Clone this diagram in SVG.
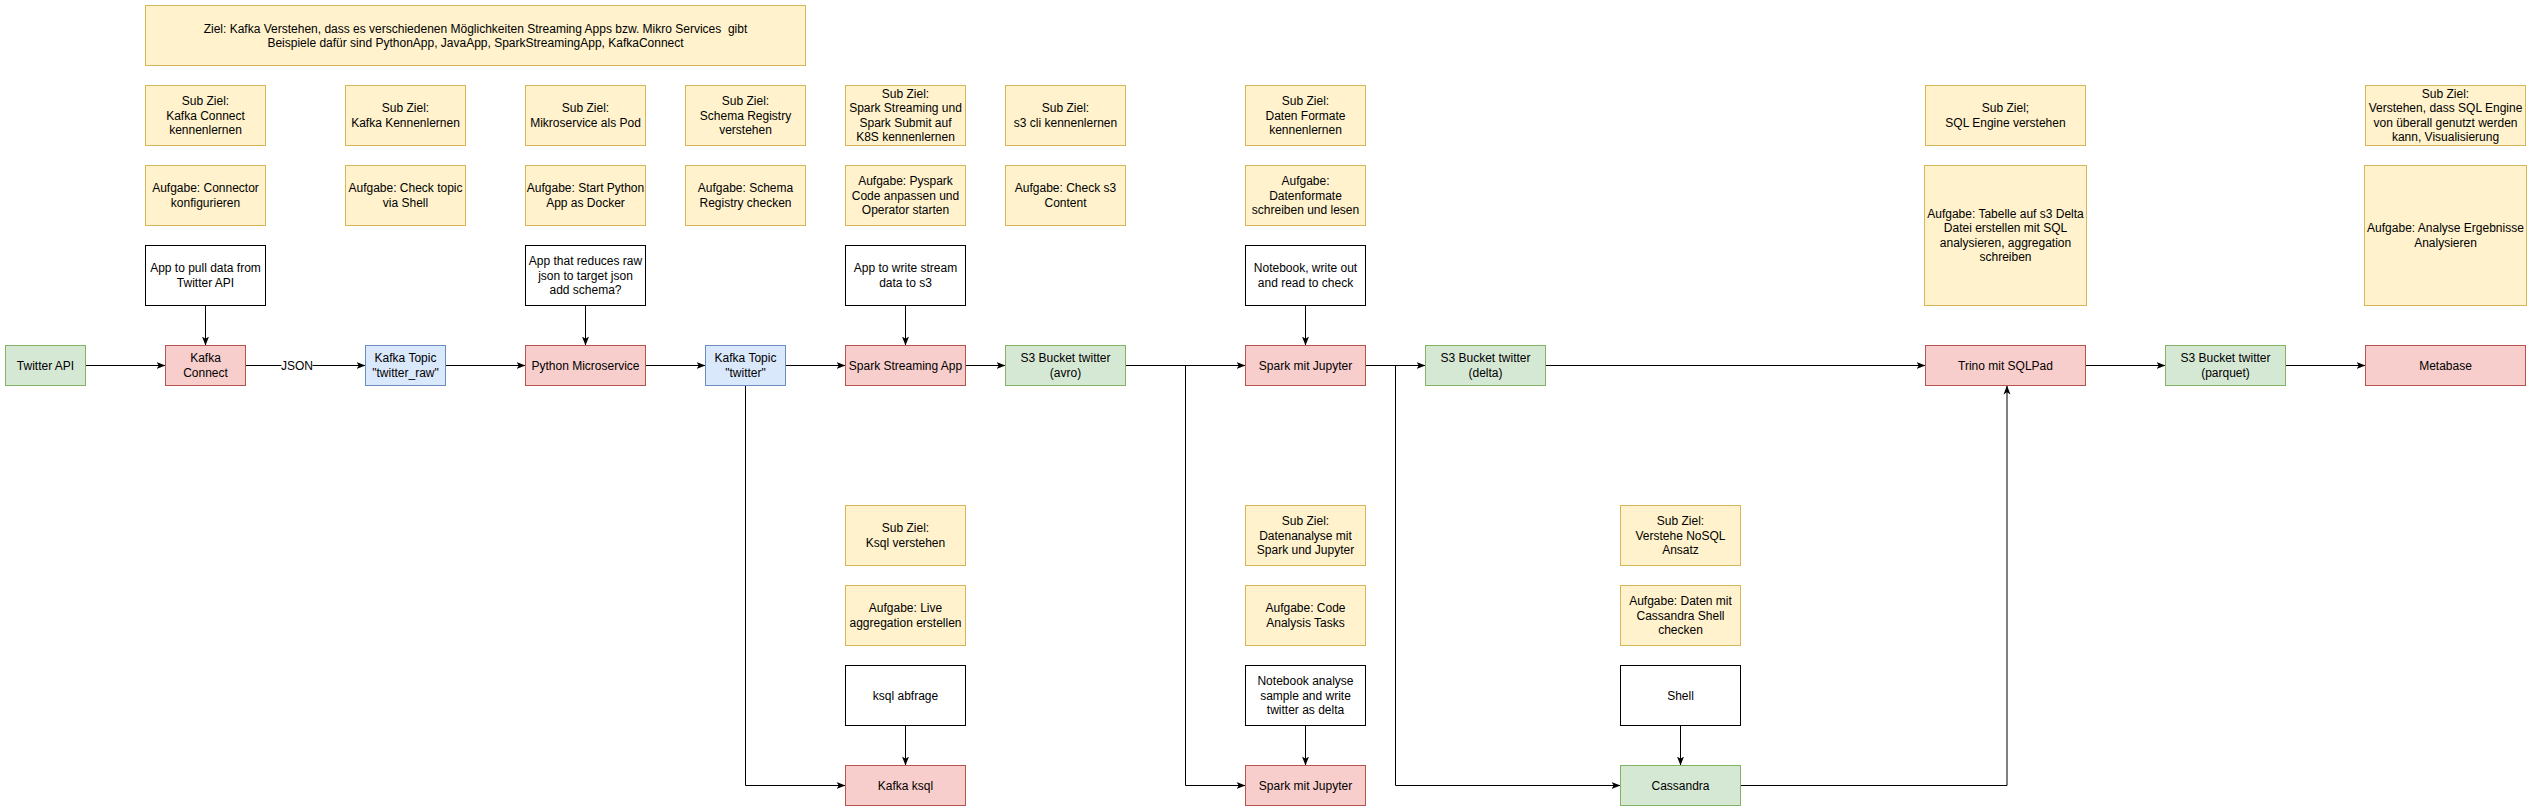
<svg xmlns="http://www.w3.org/2000/svg" width="2532" height="811" viewBox="0 0 2532 811">
<style>
  .y { fill: #fff2cc; stroke: #d6b656; stroke-width: 1; }
  .r { fill: #f8cecc; stroke: #b85450; stroke-width: 1; }
  .g { fill: #d5e8d4; stroke: #82b366; stroke-width: 1; }
  .b { fill: #dae8fc; stroke: #6c8ebf; stroke-width: 1; }
  .w { fill: #ffffff; stroke: #000000; stroke-width: 1; }
  text { font-family: "Liberation Sans", Arial, Helvetica, sans-serif; font-size: 12px; fill: #000000; text-anchor: middle; }
  .e { fill: none; stroke: #000000; stroke-width: 1; }
</style>
<defs>
  <marker id="arr" viewBox="0 0 9 8" refX="9" refY="4" markerWidth="9" markerHeight="8" markerUnits="userSpaceOnUse" orient="auto">
    <path d="M9,4 L0,0.5 L2.2,4 L0,7.5 Z" fill="#000000"/>
  </marker>
</defs>
<rect x="0" y="0" width="2532" height="811" fill="#ffffff"/>
<g transform="translate(0.5,0.5)">

<g id="connectors">
  <path class="e" d="M85,365 H165" marker-end="url(#arr)"/>
  <path class="e" d="M245,365 H365" marker-end="url(#arr)"/>
  <rect x="281" y="358" width="31" height="14" fill="#ffffff"/>
  <text x="296.5" y="369">JSON</text>
  <path class="e" d="M445,365 H525" marker-end="url(#arr)"/>
  <path class="e" d="M645,365 H705" marker-end="url(#arr)"/>
  <path class="e" d="M785,365 H845" marker-end="url(#arr)"/>
  <path class="e" d="M745,385 V785 H845" marker-end="url(#arr)"/>
  <path class="e" d="M965,365 H1005" marker-end="url(#arr)"/>
  <path class="e" d="M1125,365 H1245" marker-end="url(#arr)"/>
  <path class="e" d="M1125,365 H1185 V785 H1245" marker-end="url(#arr)"/>
  <path class="e" d="M1365,365 H1425" marker-end="url(#arr)"/>
  <path class="e" d="M1365,365 H1395 V785 H1620" marker-end="url(#arr)"/>
  <path class="e" d="M1545,365 H1925" marker-end="url(#arr)"/>
  <path class="e" d="M1740,785 H2006.5 V385" marker-end="url(#arr)"/>
  <path class="e" d="M2085,365 H2165" marker-end="url(#arr)"/>
  <path class="e" d="M2285,365 H2365" marker-end="url(#arr)"/>
  <path class="e" d="M205,305 V345" marker-end="url(#arr)"/>
  <path class="e" d="M585,305 V345" marker-end="url(#arr)"/>
  <path class="e" d="M905,305 V345" marker-end="url(#arr)"/>
  <path class="e" d="M1305,305 V345" marker-end="url(#arr)"/>
  <path class="e" d="M905,725 V765" marker-end="url(#arr)"/>
  <path class="e" d="M1305,725 V765" marker-end="url(#arr)"/>
  <path class="e" d="M1680,725 V765" marker-end="url(#arr)"/>
</g>

<g id="ziel">
  <rect class="y" x="145" y="5" width="660" height="60"/>
  <text x="475" y="32" style="white-space:pre">Ziel: Kafka Verstehen, dass es verschiedenen Möglichkeiten Streaming Apps bzw. Mikro Services  gibt</text>
  <text x="475" y="46.4">Beispiele dafür sind PythonApp, JavaApp, SparkStreamingApp, KafkaConnect</text>
</g>

<!-- Sub Ziel row -->
<g id="subziel-kafka-connect">
  <rect class="y" x="145" y="85" width="120" height="60"/>
  <text x="205" y="104.6">Sub Ziel:</text><text x="205" y="119">Kafka Connect</text><text x="205" y="133.4">kennenlernen</text>
</g>
<g id="subziel-kafka">
  <rect class="y" x="345" y="85" width="120" height="60"/>
  <text x="405" y="111.8">Sub Ziel:</text><text x="405" y="126.2">Kafka Kennenlernen</text>
</g>
<g id="subziel-mikroservice">
  <rect class="y" x="525" y="85" width="120" height="60"/>
  <text x="585" y="111.8">Sub Ziel:</text><text x="585" y="126.2">Mikroservice als Pod</text>
</g>
<g id="subziel-schema">
  <rect class="y" x="685" y="85" width="120" height="60"/>
  <text x="745" y="104.6">Sub Ziel:</text><text x="745" y="119">Schema Registry</text><text x="745" y="133.4">verstehen</text>
</g>
<g id="subziel-spark">
  <rect class="y" x="845" y="85" width="120" height="60"/>
  <text x="905" y="97.4">Sub Ziel:</text><text x="905" y="111.8">Spark Streaming und</text><text x="905" y="126.2">Spark Submit auf</text><text x="905" y="140.6">K8S kennenlernen</text>
</g>
<g id="subziel-s3">
  <rect class="y" x="1005" y="85" width="120" height="60"/>
  <text x="1065" y="111.8">Sub Ziel:</text><text x="1065" y="126.2">s3 cli kennenlernen</text>
</g>
<g id="subziel-formate">
  <rect class="y" x="1245" y="85" width="120" height="60"/>
  <text x="1305" y="104.6">Sub Ziel:</text><text x="1305" y="119">Daten Formate</text><text x="1305" y="133.4">kennenlernen</text>
</g>
<g id="subziel-sql">
  <rect class="y" x="1925" y="85" width="160" height="60"/>
  <text x="2005" y="111.8">Sub Ziel;</text><text x="2005" y="126.2">SQL Engine verstehen</text>
</g>
<g id="subziel-viz">
  <rect class="y" x="2365" y="85" width="160" height="60"/>
  <text x="2445" y="97.4">Sub Ziel:</text><text x="2445" y="111.8">Verstehen, dass SQL Engine</text><text x="2445" y="126.2">von überall genutzt werden</text><text x="2445" y="140.6">kann, Visualisierung</text>
</g>

<!-- Aufgabe row -->
<g id="aufgabe-connector">
  <rect class="y" x="145" y="165" width="120" height="60"/>
  <text x="205" y="191.8">Aufgabe: Connector</text><text x="205" y="206.2">konfigurieren</text>
</g>
<g id="aufgabe-topic">
  <rect class="y" x="345" y="165" width="120" height="60"/>
  <text x="405" y="191.8">Aufgabe: Check topic</text><text x="405" y="206.2">via Shell</text>
</g>
<g id="aufgabe-python">
  <rect class="y" x="525" y="165" width="120" height="60"/>
  <text x="585" y="191.8">Aufgabe: Start Python</text><text x="585" y="206.2">App as Docker</text>
</g>
<g id="aufgabe-schema">
  <rect class="y" x="685" y="165" width="120" height="60"/>
  <text x="745" y="191.8">Aufgabe: Schema</text><text x="745" y="206.2">Registry checken</text>
</g>
<g id="aufgabe-pyspark">
  <rect class="y" x="845" y="165" width="120" height="60"/>
  <text x="905" y="184.6">Aufgabe: Pyspark</text><text x="905" y="199">Code anpassen und</text><text x="905" y="213.4">Operator starten</text>
</g>
<g id="aufgabe-s3">
  <rect class="y" x="1005" y="165" width="120" height="60"/>
  <text x="1065" y="191.8">Aufgabe: Check s3</text><text x="1065" y="206.2">Content</text>
</g>
<g id="aufgabe-formate">
  <rect class="y" x="1245" y="165" width="120" height="60"/>
  <text x="1305" y="184.6">Aufgabe:</text><text x="1305" y="199">Datenformate</text><text x="1305" y="213.4">schreiben und lesen</text>
</g>
<g id="aufgabe-sql">
  <rect class="y" x="1924" y="165" width="162" height="140"/>
  <text x="2005" y="217.4">Aufgabe: Tabelle auf s3 Delta</text><text x="2005" y="231.8">Datei erstellen mit SQL</text><text x="2005" y="246.2">analysieren, aggregation</text><text x="2005" y="260.6">schreiben</text>
</g>
<g id="aufgabe-analyse">
  <rect class="y" x="2364" y="165" width="162" height="140"/>
  <text x="2445" y="231.8">Aufgabe: Analyse Ergebnisse</text><text x="2445" y="246.2">Analysieren</text>
</g>

<!-- White app row -->
<g id="app-pull">
  <rect class="w" x="145" y="245" width="120" height="60"/>
  <text x="205" y="271.8">App to pull data from</text><text x="205" y="286.2">Twitter API</text>
</g>
<g id="app-reduce">
  <rect class="w" x="525" y="245" width="120" height="60"/>
  <text x="585" y="264.6">App that reduces raw</text><text x="585" y="279">json to target json</text><text x="585" y="293.4">add schema?</text>
</g>
<g id="app-write">
  <rect class="w" x="845" y="245" width="120" height="60"/>
  <text x="905" y="271.8">App to write stream</text><text x="905" y="286.2">data to s3</text>
</g>
<g id="app-notebook">
  <rect class="w" x="1245" y="245" width="120" height="60"/>
  <text x="1305" y="271.8">Notebook, write out</text><text x="1305" y="286.2">and read to check</text>
</g>

<!-- Main row -->
<g id="twitter-api">
  <rect class="g" x="5" y="345" width="80" height="40"/>
  <text x="45" y="369">Twitter API</text>
</g>
<g id="kafka-connect">
  <rect class="r" x="165" y="345" width="80" height="40"/>
  <text x="205" y="361.8">Kafka</text><text x="205" y="376.2">Connect</text>
</g>
<g id="topic-raw">
  <rect class="b" x="365" y="345" width="80" height="40"/>
  <text x="405" y="361.8">Kafka Topic</text><text x="405" y="376.2">"twitter_raw"</text>
</g>
<g id="python-ms">
  <rect class="r" x="525" y="345" width="120" height="40"/>
  <text x="585" y="369">Python Microservice</text>
</g>
<g id="topic-twitter">
  <rect class="b" x="705" y="345" width="80" height="40"/>
  <text x="745" y="361.8">Kafka Topic</text><text x="745" y="376.2">"twitter"</text>
</g>
<g id="spark-streaming">
  <rect class="r" x="845" y="345" width="120" height="40"/>
  <text x="905" y="369">Spark Streaming App</text>
</g>
<g id="s3-avro">
  <rect class="g" x="1005" y="345" width="120" height="40"/>
  <text x="1065" y="361.8">S3 Bucket twitter</text><text x="1065" y="376.2">(avro)</text>
</g>
<g id="spark-jupyter">
  <rect class="r" x="1245" y="345" width="120" height="40"/>
  <text x="1305" y="369">Spark mit Jupyter</text>
</g>
<g id="s3-delta">
  <rect class="g" x="1425" y="345" width="120" height="40"/>
  <text x="1485" y="361.8">S3 Bucket twitter</text><text x="1485" y="376.2">(delta)</text>
</g>
<g id="trino">
  <rect class="r" x="1925" y="345" width="160" height="40"/>
  <text x="2005" y="369">Trino mit SQLPad</text>
</g>
<g id="s3-parquet">
  <rect class="g" x="2165" y="345" width="120" height="40"/>
  <text x="2225" y="361.8">S3 Bucket twitter</text><text x="2225" y="376.2">(parquet)</text>
</g>
<g id="metabase">
  <rect class="r" x="2365" y="345" width="160" height="40"/>
  <text x="2445" y="369">Metabase</text>
</g>

<!-- Bottom: ksql column -->
<g id="subziel-ksql">
  <rect class="y" x="845" y="505" width="120" height="60"/>
  <text x="905" y="531.8">Sub Ziel:</text><text x="905" y="546.2">Ksql verstehen</text>
</g>
<g id="aufgabe-ksql">
  <rect class="y" x="845" y="585" width="120" height="60"/>
  <text x="905" y="611.8">Aufgabe: Live</text><text x="905" y="626.2">aggregation erstellen</text>
</g>
<g id="ksql-abfrage">
  <rect class="w" x="845" y="665" width="120" height="60"/>
  <text x="905" y="699">ksql abfrage</text>
</g>
<g id="kafka-ksql">
  <rect class="r" x="845" y="765" width="120" height="40"/>
  <text x="905" y="789">Kafka ksql</text>
</g>

<!-- Bottom: spark analysis column -->
<g id="subziel-analyse">
  <rect class="y" x="1245" y="505" width="120" height="60"/>
  <text x="1305" y="524.6">Sub Ziel:</text><text x="1305" y="539">Datenanalyse mit</text><text x="1305" y="553.4">Spark und Jupyter</text>
</g>
<g id="aufgabe-code">
  <rect class="y" x="1245" y="585" width="120" height="60"/>
  <text x="1305" y="611.8">Aufgabe: Code</text><text x="1305" y="626.2">Analysis Tasks</text>
</g>
<g id="notebook-analyse">
  <rect class="w" x="1245" y="665" width="120" height="60"/>
  <text x="1305" y="684.6">Notebook analyse</text><text x="1305" y="699">sample and write</text><text x="1305" y="713.4">twitter as delta</text>
</g>
<g id="spark-jupyter-2">
  <rect class="r" x="1245" y="765" width="120" height="40"/>
  <text x="1305" y="789">Spark mit Jupyter</text>
</g>

<!-- Bottom: cassandra column -->
<g id="subziel-nosql">
  <rect class="y" x="1620" y="505" width="120" height="60"/>
  <text x="1680" y="524.6">Sub Ziel:</text><text x="1680" y="539">Verstehe NoSQL</text><text x="1680" y="553.4">Ansatz</text>
</g>
<g id="aufgabe-cassandra">
  <rect class="y" x="1620" y="585" width="120" height="60"/>
  <text x="1680" y="604.6">Aufgabe: Daten mit</text><text x="1680" y="619">Cassandra Shell</text><text x="1680" y="633.4">checken</text>
</g>
<g id="shell">
  <rect class="w" x="1620" y="665" width="120" height="60"/>
  <text x="1680" y="699">Shell</text>
</g>
<g id="cassandra">
  <rect class="g" x="1620" y="765" width="120" height="40"/>
  <text x="1680" y="789">Cassandra</text>
</g>

</g>
</svg>
